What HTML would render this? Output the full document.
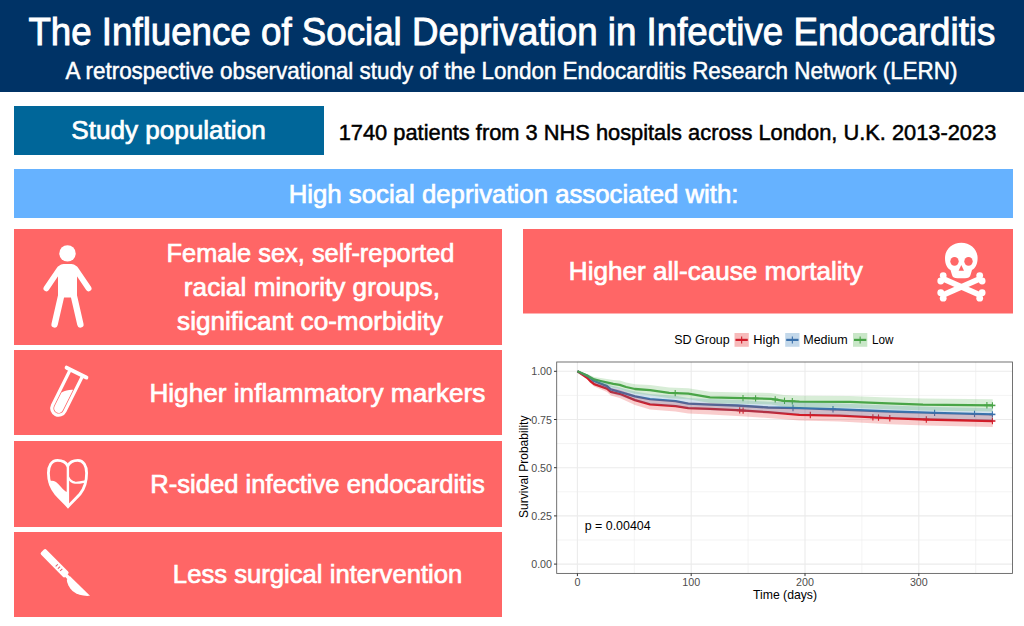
<!DOCTYPE html>
<html><head><meta charset="utf-8"><style>
html,body{margin:0;padding:0;background:#fff;}
svg{display:block;}
text{font-family:"Liberation Sans", sans-serif;}
</style></head><body>
<svg width="1024" height="626" viewBox="0 0 1024 626">
<rect x="0" y="0" width="1024" height="92" fill="#003366"/>
<rect x="14" y="106" width="310" height="49" fill="#006699"/>
<rect x="14" y="169" width="999" height="49" fill="#66B2FF"/>
<rect x="14" y="229" width="488" height="116" fill="#FF6666"/>
<rect x="14" y="350" width="488" height="85" fill="#FF6666"/>
<rect x="14" y="441" width="488" height="86" fill="#FF6666"/>
<rect x="14" y="532" width="488" height="85" fill="#FF6666"/>
<rect x="523" y="229" width="490" height="84.5" fill="#FF6666"/>
<rect x="556.7" y="362.0" width="455.79999999999995" height="211.39999999999998" fill="#fff"/>
<line x1="556.7" x2="1012.5" y1="540.00" y2="540.00" stroke="#EBEBEB" stroke-width="0.6"/>
<line x1="556.7" x2="1012.5" y1="491.80" y2="491.80" stroke="#EBEBEB" stroke-width="0.6"/>
<line x1="556.7" x2="1012.5" y1="443.60" y2="443.60" stroke="#EBEBEB" stroke-width="0.6"/>
<line x1="556.7" x2="1012.5" y1="395.40" y2="395.40" stroke="#EBEBEB" stroke-width="0.6"/>
<line y1="362.0" y2="573.4" x1="634.30" x2="634.30" stroke="#EBEBEB" stroke-width="0.6"/>
<line y1="362.0" y2="573.4" x1="748.10" x2="748.10" stroke="#EBEBEB" stroke-width="0.6"/>
<line y1="362.0" y2="573.4" x1="861.90" x2="861.90" stroke="#EBEBEB" stroke-width="0.6"/>
<line y1="362.0" y2="573.4" x1="975.70" x2="975.70" stroke="#EBEBEB" stroke-width="0.6"/>
<line x1="556.7" x2="1012.5" y1="564.10" y2="564.10" stroke="#EBEBEB" stroke-width="1.1"/>
<line x1="556.7" x2="1012.5" y1="515.90" y2="515.90" stroke="#EBEBEB" stroke-width="1.1"/>
<line x1="556.7" x2="1012.5" y1="467.70" y2="467.70" stroke="#EBEBEB" stroke-width="1.1"/>
<line x1="556.7" x2="1012.5" y1="419.50" y2="419.50" stroke="#EBEBEB" stroke-width="1.1"/>
<line x1="556.7" x2="1012.5" y1="371.30" y2="371.30" stroke="#EBEBEB" stroke-width="1.1"/>
<line y1="362.0" y2="573.4" x1="577.40" x2="577.40" stroke="#EBEBEB" stroke-width="1.1"/>
<line y1="362.0" y2="573.4" x1="691.20" x2="691.20" stroke="#EBEBEB" stroke-width="1.1"/>
<line y1="362.0" y2="573.4" x1="805.00" x2="805.00" stroke="#EBEBEB" stroke-width="1.1"/>
<line y1="362.0" y2="573.4" x1="918.80" x2="918.80" stroke="#EBEBEB" stroke-width="1.1"/>
<polyline points="577.4,371.3 587.1,377.8 590.3,381.0 594.2,384.2 607.0,388.6 610.8,391.8 619.7,393.8 635.0,400.1 650.0,404.3 675.6,406.2 688.3,408.1 710.0,408.8 736.9,410.2 768.0,412.2 799.4,414.8 840.0,415.7 889.8,418.2 926.3,419.5 992.7,421.0" fill="none" stroke="#D01C2A" stroke-width="2.3" stroke-linejoin="round"/>
<polyline points="577.4,371.3 587.8,376.2 594.2,381.0 607.0,386.1 610.8,389.3 619.7,391.8 635.0,396.3 650.0,399.2 675.6,401.1 688.3,403.6 710.0,404.6 736.9,405.5 768.0,407.5 799.4,408.1 840.0,409.5 889.8,411.5 934.6,412.9 992.7,414.4" fill="none" stroke="#3A70AB" stroke-width="2.3" stroke-linejoin="round"/>
<polyline points="577.4,371.3 587.8,375.9 594.2,379.4 600.6,381.0 613.3,383.9 619.7,384.8 626.1,387.0 635.0,389.0 650.0,390.2 669.2,392.8 688.3,393.7 710.0,397.3 721.2,397.7 743.0,398.1 771.0,398.8 783.8,400.8 799.4,401.6 850.0,401.9 881.5,403.2 923.0,404.6 992.7,405.4" fill="none" stroke="#48A347" stroke-width="2.3" stroke-linejoin="round"/>
<line x1="675.2" x2="675.2" y1="389.9" y2="396.3" stroke="#48A347" stroke-width="1.1"/><line x1="672.2" x2="678.2" y1="393.1" y2="393.1" stroke="#48A347" stroke-width="1.6"/><line x1="743.0" x2="743.0" y1="394.9" y2="401.3" stroke="#48A347" stroke-width="1.1"/><line x1="740.0" x2="746.0" y1="398.1" y2="398.1" stroke="#48A347" stroke-width="1.6"/><line x1="755.6" x2="755.6" y1="395.2" y2="401.6" stroke="#48A347" stroke-width="1.1"/><line x1="752.6" x2="758.6" y1="398.4" y2="398.4" stroke="#48A347" stroke-width="1.6"/><line x1="775.2" x2="775.2" y1="396.2" y2="402.6" stroke="#48A347" stroke-width="1.1"/><line x1="772.2" x2="778.2" y1="399.4" y2="399.4" stroke="#48A347" stroke-width="1.6"/><line x1="784.5" x2="784.5" y1="397.6" y2="404.0" stroke="#48A347" stroke-width="1.1"/><line x1="781.5" x2="787.5" y1="400.8" y2="400.8" stroke="#48A347" stroke-width="1.6"/><line x1="792.3" x2="792.3" y1="398.0" y2="404.4" stroke="#48A347" stroke-width="1.1"/><line x1="789.3" x2="795.3" y1="401.2" y2="401.2" stroke="#48A347" stroke-width="1.6"/><line x1="986.9" x2="986.9" y1="402.1" y2="408.5" stroke="#48A347" stroke-width="1.1"/><line x1="983.9" x2="989.9" y1="405.3" y2="405.3" stroke="#48A347" stroke-width="1.6"/><line x1="992.4" x2="992.4" y1="402.2" y2="408.6" stroke="#48A347" stroke-width="1.1"/><line x1="989.4" x2="995.4" y1="405.4" y2="405.4" stroke="#48A347" stroke-width="1.6"/>
<line x1="793.0" x2="793.0" y1="404.8" y2="411.2" stroke="#3A70AB" stroke-width="1.1"/><line x1="790.0" x2="796.0" y1="408.0" y2="408.0" stroke="#3A70AB" stroke-width="1.6"/><line x1="833.0" x2="833.0" y1="406.1" y2="412.5" stroke="#3A70AB" stroke-width="1.1"/><line x1="830.0" x2="836.0" y1="409.3" y2="409.3" stroke="#3A70AB" stroke-width="1.6"/><line x1="934.6" x2="934.6" y1="409.7" y2="416.1" stroke="#3A70AB" stroke-width="1.1"/><line x1="931.6" x2="937.6" y1="412.9" y2="412.9" stroke="#3A70AB" stroke-width="1.6"/><line x1="974.5" x2="974.5" y1="410.7" y2="417.1" stroke="#3A70AB" stroke-width="1.1"/><line x1="971.5" x2="977.5" y1="413.9" y2="413.9" stroke="#3A70AB" stroke-width="1.6"/><line x1="992.4" x2="992.4" y1="411.2" y2="417.6" stroke="#3A70AB" stroke-width="1.1"/><line x1="989.4" x2="995.4" y1="414.4" y2="414.4" stroke="#3A70AB" stroke-width="1.6"/>
<line x1="739.7" x2="739.7" y1="407.2" y2="413.6" stroke="#D01C2A" stroke-width="1.1"/><line x1="736.7" x2="742.7" y1="410.4" y2="410.4" stroke="#D01C2A" stroke-width="1.6"/><line x1="743.1" x2="743.1" y1="407.4" y2="413.8" stroke="#D01C2A" stroke-width="1.1"/><line x1="740.1" x2="746.1" y1="410.6" y2="410.6" stroke="#D01C2A" stroke-width="1.6"/><line x1="810.3" x2="810.3" y1="411.8" y2="418.2" stroke="#D01C2A" stroke-width="1.1"/><line x1="807.3" x2="813.3" y1="415.0" y2="415.0" stroke="#D01C2A" stroke-width="1.6"/><line x1="872.9" x2="872.9" y1="414.2" y2="420.6" stroke="#D01C2A" stroke-width="1.1"/><line x1="869.9" x2="875.9" y1="417.4" y2="417.4" stroke="#D01C2A" stroke-width="1.6"/><line x1="878.5" x2="878.5" y1="414.4" y2="420.8" stroke="#D01C2A" stroke-width="1.1"/><line x1="875.5" x2="881.5" y1="417.6" y2="417.6" stroke="#D01C2A" stroke-width="1.6"/><line x1="889.8" x2="889.8" y1="415.0" y2="421.4" stroke="#D01C2A" stroke-width="1.1"/><line x1="886.8" x2="892.8" y1="418.2" y2="418.2" stroke="#D01C2A" stroke-width="1.6"/><line x1="926.3" x2="926.3" y1="416.3" y2="422.7" stroke="#D01C2A" stroke-width="1.1"/><line x1="923.3" x2="929.3" y1="419.5" y2="419.5" stroke="#D01C2A" stroke-width="1.6"/><line x1="992.4" x2="992.4" y1="417.8" y2="424.2" stroke="#D01C2A" stroke-width="1.1"/><line x1="989.4" x2="995.4" y1="421.0" y2="421.0" stroke="#D01C2A" stroke-width="1.6"/>
<polygon points="577.4,371.2 587.1,376.2 590.3,379.0 594.2,381.8 607.0,385.1 610.8,388.0 619.7,389.6 635.0,395.3 650.0,399.2 675.6,400.8 688.3,402.6 710.0,403.1 736.9,404.5 768.0,406.4 799.4,409.0 840.0,409.8 889.8,412.2 926.3,413.5 992.7,414.9 992.7,427.1 926.3,425.5 889.8,424.2 840.0,421.6 799.4,420.6 768.0,418.0 736.9,415.9 710.0,414.4 688.3,413.6 675.6,411.6 650.0,409.4 635.0,404.9 619.7,398.0 610.8,395.6 607.0,392.1 594.2,386.6 590.3,383.0 587.1,379.4 577.4,371.4" fill="#E41A1C" fill-opacity="0.22"/>
<polygon points="577.4,371.2 587.8,374.5 594.2,378.6 607.0,382.6 610.8,385.5 619.7,387.6 635.0,391.5 650.0,394.1 675.6,395.7 688.3,398.1 710.0,399.0 736.9,399.8 768.0,401.7 799.4,402.3 840.0,403.6 889.8,405.5 934.6,406.9 992.7,408.3 992.7,420.5 934.6,418.9 889.8,417.5 840.0,415.4 799.4,413.9 768.0,413.3 736.9,411.2 710.0,410.2 688.3,409.1 675.6,406.5 650.0,404.3 635.0,401.1 619.7,396.0 610.8,393.1 607.0,389.6 594.2,383.4 587.8,377.9 577.4,371.4" fill="#377EB8" fill-opacity="0.22"/>
<polygon points="577.4,371.2 587.8,374.2 594.2,377.0 600.6,378.0 613.3,380.0 619.7,380.6 626.1,382.5 635.0,384.2 650.0,385.1 669.2,387.4 688.3,388.2 710.0,391.7 721.2,392.0 743.0,392.4 771.0,393.0 783.8,395.0 799.4,395.8 850.0,396.0 881.5,397.3 923.0,398.6 992.7,399.3 992.7,411.5 923.0,410.6 881.5,409.1 850.0,407.8 799.4,407.4 783.8,406.6 771.0,404.5 743.0,403.8 721.2,403.4 710.0,402.9 688.3,399.2 669.2,398.2 650.0,395.3 635.0,393.8 626.1,391.5 619.7,389.0 613.3,387.8 600.6,384.0 594.2,381.8 587.8,377.6 577.4,371.4" fill="#4DAF4A" fill-opacity="0.22"/>
<rect x="556.7" y="362.0" width="455.79999999999995" height="211.39999999999998" fill="none" stroke="#5A5A5A" stroke-width="0.85"/>
<line x1="554.0" x2="556.7" y1="564.10" y2="564.10" stroke="#333" stroke-width="1"/>
<line x1="554.0" x2="556.7" y1="515.90" y2="515.90" stroke="#333" stroke-width="1"/>
<line x1="554.0" x2="556.7" y1="467.70" y2="467.70" stroke="#333" stroke-width="1"/>
<line x1="554.0" x2="556.7" y1="419.50" y2="419.50" stroke="#333" stroke-width="1"/>
<line x1="554.0" x2="556.7" y1="371.30" y2="371.30" stroke="#333" stroke-width="1"/>
<line y1="573.4" y2="576.1" x1="577.40" x2="577.40" stroke="#333" stroke-width="1"/>
<line y1="573.4" y2="576.1" x1="691.20" x2="691.20" stroke="#333" stroke-width="1"/>
<line y1="573.4" y2="576.1" x1="805.00" x2="805.00" stroke="#333" stroke-width="1"/>
<line y1="573.4" y2="576.1" x1="918.80" x2="918.80" stroke="#333" stroke-width="1"/>
<text x="552" y="568.10" font-size="10.7" fill="#4D4D4D" text-anchor="end">0.00</text>
<text x="552" y="519.90" font-size="10.7" fill="#4D4D4D" text-anchor="end">0.25</text>
<text x="552" y="471.70" font-size="10.7" fill="#4D4D4D" text-anchor="end">0.50</text>
<text x="552" y="423.50" font-size="10.7" fill="#4D4D4D" text-anchor="end">0.75</text>
<text x="552" y="375.30" font-size="10.7" fill="#4D4D4D" text-anchor="end">1.00</text>
<text x="577.40" y="586.3" font-size="10.7" fill="#4D4D4D" text-anchor="middle">0</text>
<text x="691.20" y="586.3" font-size="10.7" fill="#4D4D4D" text-anchor="middle">100</text>
<text x="805.00" y="586.3" font-size="10.7" fill="#4D4D4D" text-anchor="middle">200</text>
<text x="918.80" y="586.3" font-size="10.7" fill="#4D4D4D" text-anchor="middle">300</text>
<text transform="translate(528.2,466.8) rotate(-90)" x="0" y="0" font-size="12.3" fill="#000" text-anchor="middle" textLength="102.5" lengthAdjust="spacingAndGlyphs">Survival Probability</text>
<rect x="734.5" y="333" width="14.3" height="13.8" fill="#E41A1C" fill-opacity="0.3"/>
<line x1="735.5" x2="747.8" y1="339.9" y2="339.9" stroke="#D01C2A" stroke-width="2.2"/>
<line x1="741.65" x2="741.65" y1="336.4" y2="343.5" stroke="#D01C2A" stroke-width="1.1"/>
<rect x="785.2" y="333" width="14.3" height="13.8" fill="#377EB8" fill-opacity="0.3"/>
<line x1="786.2" x2="798.5" y1="339.9" y2="339.9" stroke="#3A70AB" stroke-width="2.2"/>
<line x1="792.35" x2="792.35" y1="336.4" y2="343.5" stroke="#3A70AB" stroke-width="1.1"/>
<rect x="853" y="333" width="14.3" height="13.8" fill="#4DAF4A" fill-opacity="0.3"/>
<line x1="854" x2="866.3" y1="339.9" y2="339.9" stroke="#48A347" stroke-width="2.2"/>
<line x1="860.15" x2="860.15" y1="336.4" y2="343.5" stroke="#48A347" stroke-width="1.1"/>
<circle cx="67.5" cy="253.4" r="8.2" fill="#FFFFFF"/>
<path d="M58,297.5 L58,270 Q58,264 63.5,264 L71.5,264 Q77,264 77,270 L77,297.5 Z" fill="#FFFFFF"/>
<line x1="59.5" y1="269" x2="46.4" y2="288.4" stroke="#FFFFFF" stroke-width="5.8" stroke-linecap="round"/>
<line x1="75.5" y1="269" x2="88.6" y2="288.4" stroke="#FFFFFF" stroke-width="5.8" stroke-linecap="round"/>
<line x1="61.8" y1="293" x2="54.6" y2="324.4" stroke="#FFFFFF" stroke-width="6.4" stroke-linecap="round"/>
<line x1="73.2" y1="293" x2="80.4" y2="324.4" stroke="#FFFFFF" stroke-width="6.4" stroke-linecap="round"/>
<g transform="translate(58.7,408.3) rotate(26.5)"><path d="M-6.9,-38.5 L-6.9,0 A6.9,6.9 0 0 0 6.9,0 L6.9,-38.5" fill="none" stroke="#FFFFFF" stroke-width="3.2"/><line x1="-11" y1="-39.9" x2="11" y2="-39.9" stroke="#FFFFFF" stroke-width="4" stroke-linecap="round"/><path d="M-4.6,-15.5 C-2,-19 1,-21.5 4.6,-23 L4.6,0 A4.6,4.6 0 0 1 -4.6,0 Z" fill="#FFFFFF"/></g>
<path d="M67.8,466 C65.5,461.5 62,460.4 57.5,460.4 C51.5,460.4 48.4,466 48.4,473 C48.4,481 51,488 56,494 C60,498.5 64.5,502.5 68,506.5 C71.5,502.5 76,498.5 80,494 C85,488 86.6,481 86.6,473 C86.6,466 83.5,460.4 77.8,460.4 C73.5,460.4 70,461.5 67.8,466 Z" fill="none" stroke="#FFFFFF" stroke-width="2.8"/>
<line x1="67.9" y1="466" x2="67.9" y2="506.5" stroke="#FFFFFF" stroke-width="2.4"/>
<path d="M48.6,481.6 C51,480.3 53.5,480.5 56,482 C59,484 62,489 65.7,491.4 L67.9,492.3 L67.9,506.5 C64.5,502.5 60,498.5 56,494 C51,488 48.6,483 48.6,481.6 Z" fill="#FFFFFF"/>
<path d="M68.2,477.3 C69.5,480 71.5,482.3 75,482.7 C79,483 82.5,482 86.3,481.2" fill="none" stroke="#FFFFFF" stroke-width="2.2"/>
<g transform="translate(54.65,563.2) rotate(45.4)"><rect x="-17.2" y="-3.7" width="34.4" height="7.4" rx="1.8" fill="#FFFFFF"/><line x1="3" y1="-1.5" x2="3" y2="1.5" stroke="#E0606A" stroke-width="1"/><line x1="6.2" y1="-1.5" x2="6.2" y2="1.5" stroke="#E0606A" stroke-width="1"/><line x1="9.4" y1="-1.5" x2="9.4" y2="1.5" stroke="#E0606A" stroke-width="1"/></g>
<path d="M70,576.3 L90,595.8 C83.5,596.3 77.5,595 72.5,591 C69,587.5 66.8,583 66.8,579.8 Z" fill="#FFFFFF"/>
<line x1="66" y1="575.2" x2="69.8" y2="579" stroke="#FFFFFF" stroke-width="3.6"/>
<path d="M961.3,242.8 C970.5,242.8 977.6,249.5 977.6,258 C977.6,264 975.5,268 972,270 L970.5,275 C970,277.5 968,278.2 965,278.2 L957.5,278.2 C954.5,278.2 952.5,277.5 952,275 L950.5,270 C947,268 945,264 945,258 C945,249.5 952,242.8 961.3,242.8 Z" fill="#FFFFFF"/>
<ellipse cx="954.5" cy="261.3" rx="4.2" ry="4.4" fill="#FF6666"/>
<ellipse cx="968.5" cy="261.3" rx="4.2" ry="4.4" fill="#FF6666"/>
<path d="M961.3,265 L964,270.8 L958.6,270.8 Z" fill="#FF6666"/>
<line x1="942.7" y1="278.6" x2="980.2" y2="295.1" stroke="#FFFFFF" stroke-width="5.6"/><circle cx="940.76" cy="281.02" r="3.4" fill="#FFFFFF"/><circle cx="943.18" cy="275.53" r="3.4" fill="#FFFFFF"/><circle cx="979.72" cy="298.17" r="3.4" fill="#FFFFFF"/><circle cx="982.14" cy="292.68" r="3.4" fill="#FFFFFF"/>
<line x1="942.7" y1="295.1" x2="980.2" y2="278.6" stroke="#FFFFFF" stroke-width="5.6"/><circle cx="943.18" cy="298.17" r="3.4" fill="#FFFFFF"/><circle cx="940.76" cy="292.68" r="3.4" fill="#FFFFFF"/><circle cx="982.14" cy="281.02" r="3.4" fill="#FFFFFF"/><circle cx="979.72" cy="275.53" r="3.4" fill="#FFFFFF"/>
<text x="28.40" y="44.90" font-size="37.9" textLength="967.00" lengthAdjust="spacingAndGlyphs" fill="#fff" stroke="#fff" stroke-width="0.9">The Influence of Social Deprivation in Infective Endocarditis</text>
<text x="65.60" y="79.40" font-size="23.4" textLength="891.80" lengthAdjust="spacingAndGlyphs" fill="#fff" stroke="#fff" stroke-width="0.5">A retrospective observational study of the London Endocarditis Research Network (LERN)</text>
<text x="71.26" y="139.00" font-size="25.1" textLength="194.47" lengthAdjust="spacingAndGlyphs" fill="#fff" stroke="#fff" stroke-width="0.7">Study population</text>
<text x="338.69" y="140.00" font-size="22" textLength="657.61" lengthAdjust="spacingAndGlyphs" fill="#000" stroke="#000" stroke-width="0.5">1740 patients from 3 NHS hospitals across London, U.K. 2013-2023</text>
<text x="288.68" y="202.70" font-size="25.6" textLength="449.83" lengthAdjust="spacingAndGlyphs" fill="#fff" stroke="#fff" stroke-width="0.7">High social deprivation associated with:</text>
<text x="166.57" y="262.20" font-size="26" textLength="287.85" lengthAdjust="spacingAndGlyphs" fill="#fff" stroke="#fff" stroke-width="0.7">Female sex, self-reported</text>
<text x="183.87" y="295.90" font-size="26" textLength="256.06" lengthAdjust="spacingAndGlyphs" fill="#fff" stroke="#fff" stroke-width="0.7">racial minority groups,</text>
<text x="177.10" y="330.40" font-size="26" textLength="265.80" lengthAdjust="spacingAndGlyphs" fill="#fff" stroke="#fff" stroke-width="0.7">significant co-morbidity</text>
<text x="149.38" y="402.20" font-size="26.3" textLength="336.03" lengthAdjust="spacingAndGlyphs" fill="#fff" stroke="#fff" stroke-width="0.7">Higher inflammatory markers</text>
<text x="150.28" y="492.80" font-size="26" textLength="334.43" lengthAdjust="spacingAndGlyphs" fill="#fff" stroke="#fff" stroke-width="0.7">R-sided infective endocarditis</text>
<text x="172.87" y="583.30" font-size="26" textLength="289.45" lengthAdjust="spacingAndGlyphs" fill="#fff" stroke="#fff" stroke-width="0.7">Less surgical intervention</text>
<text x="568.88" y="280.20" font-size="25.6" textLength="294.02" lengthAdjust="spacingAndGlyphs" fill="#fff" stroke="#fff" stroke-width="0.7">Higher all-cause mortality</text>
<text x="674.27" y="343.90" font-size="11.9" textLength="55.46" lengthAdjust="spacingAndGlyphs" fill="#000" stroke="#000" stroke-width="0">SD Group</text>
<text x="753.23" y="343.90" font-size="11.9" textLength="26.53" lengthAdjust="spacingAndGlyphs" fill="#000" stroke="#000" stroke-width="0">High</text>
<text x="803.26" y="343.90" font-size="11.9" textLength="44.47" lengthAdjust="spacingAndGlyphs" fill="#000" stroke="#000" stroke-width="0">Medium</text>
<text x="871.96" y="343.90" font-size="11.9" textLength="21.53" lengthAdjust="spacingAndGlyphs" fill="#000" stroke="#000" stroke-width="0">Low</text>
<text x="753.00" y="598.90" font-size="11.9" textLength="64.02" lengthAdjust="spacingAndGlyphs" fill="#000" stroke="#000" stroke-width="0">Time (days)</text>
<text x="584.78" y="530.00" font-size="12.3" textLength="65.83" lengthAdjust="spacingAndGlyphs" fill="#000" stroke="#000" stroke-width="0">p = 0.00404</text>
</svg>
</body></html>
